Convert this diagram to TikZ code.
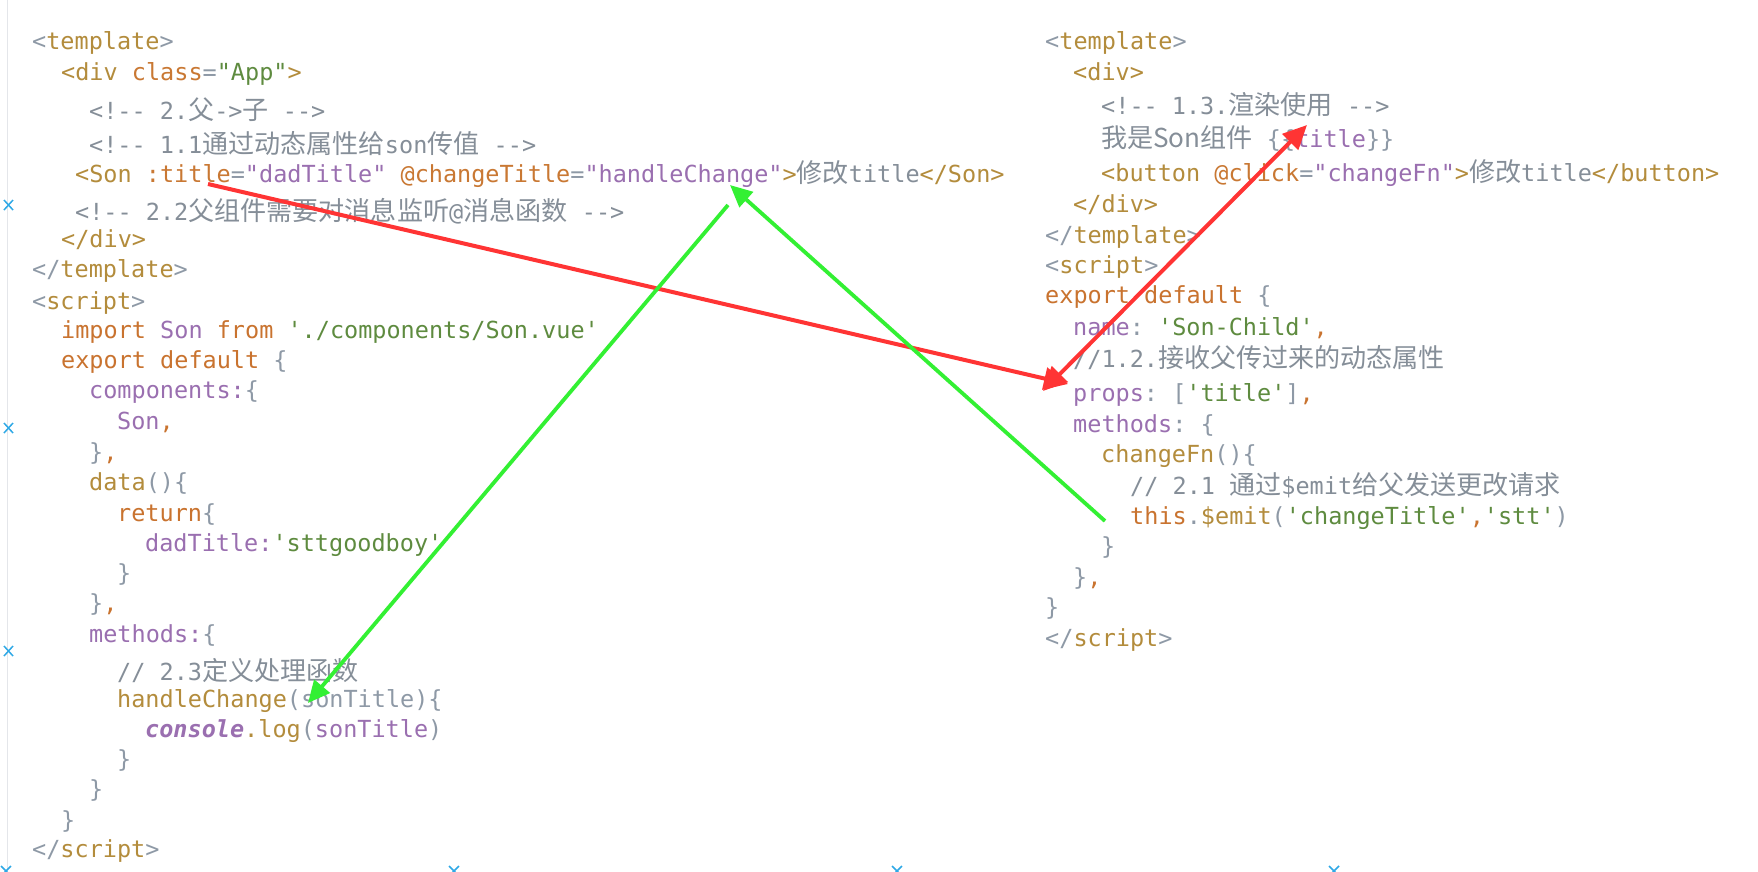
\documentclass[tikz,border=0pt]{standalone}
\usepackage{fontspec}
\setmonofont{DejaVu Sans Mono}
\newfontfamily\zhL{Noto Sans CJK SC}[Scale=1.11]
\usepackage{tikz}
\usetikzlibrary{arrows.meta}

\definecolor{cbr}{HTML}{8E99A6}
\definecolor{ctag}{HTML}{B38C3C}
\definecolor{catt}{HTML}{C97833}
\definecolor{cstr}{HTML}{5E8B3F}
\definecolor{cpur}{HTML}{9A6FB0}
\definecolor{ccom}{HTML}{858E98}
\definecolor{ckey}{HTML}{C9732F}
\definecolor{arrowred}{HTML}{FF3434}
\definecolor{arrowgreen}{HTML}{33F033}
\definecolor{gutter}{HTML}{E4E6EA}
\definecolor{markblue}{HTML}{2EA8E6}

\newcommand\cB[1]{\textcolor{cbr}{#1}}
\newcommand\cT[1]{\textcolor{ctag}{#1}}
\newcommand\cA[1]{\textcolor{catt}{#1}}
\newcommand\cS[1]{\textcolor{cstr}{#1}}
\newcommand\cP[1]{\textcolor{cpur}{#1}}
\newcommand\cC[1]{\textcolor{ccom}{#1}}
\newcommand\cK[1]{\textcolor{ckey}{#1}}
\newcommand\zh[1]{{\zhL #1}}
\newcommand\codefont{\ttfamily\fontsize{23.5}{28}\selectfont}

\begin{document}
\begin{tikzpicture}[x=1pt,y=1pt,
    code/.style={anchor=base west,inner sep=0pt,font=\codefont},
    redarrow/.style={draw=arrowred,line width=4pt,-{Triangle[length=24pt,width=22pt]}},
    greenarrow/.style={draw=arrowgreen,line width=3.8pt,-{Triangle[length=22pt,width=20pt]}}]
    \fill[white] (0,0) rectangle (1758,-871);
    \useasboundingbox (0,0) rectangle (1758,-871);

    % Gutter
    \draw[gutter,line width=1pt] (7,0) -- (7,-871);
    \foreach \y in {205,428,651}
        \draw[markblue,line width=1.5pt] (4,-\y+5) -- (13,-\y-5) (4,-\y-5) -- (13,-\y+5);
    \foreach \x in {6,454,897,1334}
        \draw[markblue,line width=1.5pt] (\x-5,-866) -- (\x+5,-876) (\x-5,-876) -- (\x+5,-866);

    % Parent component (App)
    \node[code] (pa1) at (32,-49) {\cB{<}\cT{template}\cB{>}};
    \node[code] (pa2) at (61,-80) {\cT{<div} \cA{class}\cB{=}\cS{"App"}\cT{>}};
    \node[code] (pa3) at (89,-119.5) {\cC{<!-- 2.\zh{父}->\zh{子} -->}};
    \node[code] (pa4) at (89,-153) {\cC{<!-- 1.1\zh{通过动态属性给}son\zh{传值} -->}};
    \node[code] (pa5) at (75,-182) {\cT{<Son} \cA{:title}\cB{=}\cP{"dadTitle"} \cA{@changeTitle}\cB{=}\cP{"handleChange"}\cT{>}\cC{\zh{修改}title}\cT{</Son>}};
    \node[code] (pa6) at (75,-220) {\cC{<!-- 2.2\zh{父组件需要对消息监听}@\zh{消息函数} -->}};
    \node[code] (pa7) at (61,-247) {\cT{</div>}};
    \node[code] (pa8) at (32,-277.5) {\cB{</}\cT{template}\cB{>}};
    \node[code] (pa9) at (32,-309) {\cB{<}\cT{script}\cB{>}};
    \node[code] (pa10) at (61,-338) {\cK{import} \cP{Son} \cK{from} \cS{'./components/Son.vue'}};
    \node[code] (pa11) at (61,-368.5) {\cK{export default} \cB{\{}};
    \node[code] (pa12) at (89,-398.5) {\cP{components:}\cB{\{}};
    \node[code] (pa13) at (117,-429) {\cP{Son}\cK{,}};
    \node[code] (pa14) at (89,-460) {\cB{\}}\cK{,}};
    \node[code] (pa15) at (89,-490.5) {\cT{data}\cB{()\{}};
    \node[code] (pa16) at (117,-521) {\cK{return}\cB{\{}};
    \node[code] (pa17) at (145,-551) {\cP{dadTitle:}\cS{'sttgoodboy'}};
    \node[code] (pa18) at (117,-581.5) {\cB{\}}};
    \node[code] (pa19) at (89,-611.5) {\cB{\}}\cK{,}};
    \node[code] (pa20) at (89,-642) {\cP{methods:}\cB{\{}};
    \node[code] (pa21) at (117,-680) {\cC{// 2.3\zh{定义处理函数}}};
    \node[code] (pa22) at (117,-707) {\cT{handleChange}\cB{(sonTitle)\{}};
    \node[code] (pa23) at (145,-737) {\cP{\bfseries\itshape console}\cT{.log}\cB{(}\cP{sonTitle}\cB{)}};
    \node[code] (pa24) at (117,-767.5) {\cB{\}}};
    \node[code] (pa25) at (89,-797.5) {\cB{\}}};
    \node[code] (pa26) at (61,-828) {\cB{\}}};
    \node[code] (pa27) at (32,-857) {\cB{</}\cT{script}\cB{>}};

    % Child component (Son)
    \node[code] (ch1) at (1045,-49) {\cB{<}\cT{template}\cB{>}};
    \node[code] (ch2) at (1073,-80) {\cT{<div>}};
    \node[code] (ch3) at (1101,-114) {\cC{<!-- 1.3.\zh{渲染使用} -->}};
    \node[code] (ch4) at (1101,-147.5) {\cC{\zh{我是Son组件}} \cB{\{\{}\cP{title}\cB{\}\}}};
    \node[code] (ch5) at (1101,-181) {\cT{<button} \cA{@click}\cB{=}\cP{"changeFn"}\cT{>}\cC{\zh{修改}title}\cT{</button>}};
    \node[code] (ch6) at (1073,-212.5) {\cT{</div>}};
    \node[code] (ch7) at (1045,-243) {\cB{</}\cT{template}\cB{>}};
    \node[code] (ch8) at (1045,-273) {\cB{<}\cT{script}\cB{>}};
    \node[code] (ch9) at (1045,-303.5) {\cK{export default} \cB{\{}};
    \node[code] (ch10) at (1073,-335) {\cP{name}\cB{:} \cS{'Son-Child'}\cK{,}};
    \node[code] (ch11) at (1073,-367) {\cC{//1.2.\zh{接收父传过来的动态属性}}};
    \node[code] (ch12) at (1073,-401) {\cP{props}\cB{: [}\cS{'title'}\cB{]}\cK{,}};
    \node[code] (ch13) at (1073,-432) {\cP{methods}\cB{: \{}};
    \node[code] (ch14) at (1101,-462.5) {\cT{changeFn}\cB{()\{}};
    \node[code] (ch15) at (1130,-494) {\cC{// 2.1 \zh{通过}\$emit\zh{给父发送更改请求}}};
    \node[code] (ch16) at (1130,-524) {\cK{this}\cB{.}\cT{\$emit}\cB{(}\cS{'changeTitle'}\cK{,}\cS{'stt'}\cB{)}};
    \node[code] (ch17) at (1101,-554.5) {\cB{\}}};
    \node[code] (ch18) at (1073,-585) {\cB{\}}\cK{,}};
    \node[code] (ch19) at (1045,-615) {\cB{\}}};
    \node[code] (ch20) at (1045,-646.5) {\cB{</}\cT{script}\cB{>}};

    % Arrow ends
    \coordinate (propOut) at (208,-184);
    \coordinate (propIn) at (1068,-384);
    \coordinate (propTip) at (1043,-391);
    \coordinate (propUse) at (1307,-125);
    \coordinate (emitOut) at (1105,-521);
    \coordinate (emitIn) at (730,-185);
    \coordinate (handOut) at (728,-205);
    \coordinate (handIn) at (308,-703);

    % Data flow
    \draw[redarrow] (propOut) -- (propIn);
    \draw[redarrow,{Triangle[length=24pt,width=22pt]}-{Triangle[length=24pt,width=22pt]}] (propTip) -- (propUse);
    \draw[greenarrow] (emitOut) -- (emitIn);
    \draw[greenarrow] (handOut) -- (handIn);
\end{tikzpicture}
\end{document}
